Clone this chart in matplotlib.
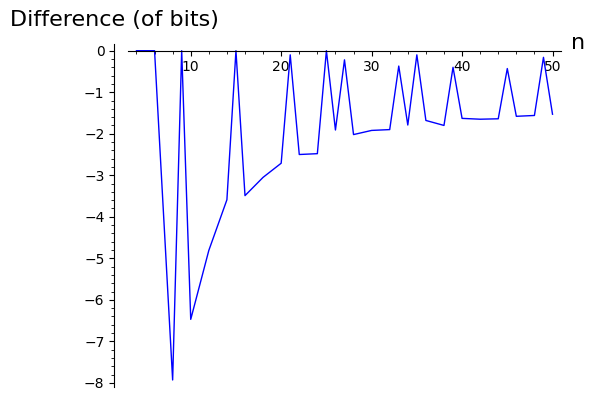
import matplotlib
matplotlib.use("Agg")
import matplotlib.pyplot as plt
from matplotlib.ticker import MultipleLocator

# composite n only (primes are missing from the data)
n = [4, 6, 8, 9, 10, 12, 14, 15, 16, 18, 20, 21, 22, 24, 25, 26, 27, 28,
     30, 32, 33, 34, 35, 36, 38, 39, 40, 42, 44, 45, 46, 48, 49, 50]
diff = [0.0, 0.0, -7.93, 0.0, -6.47, -4.81, -3.59, 0.0, -3.49, -3.05, -2.71,
        -0.10, -2.50, -2.48, 0.0, -1.91, -0.22, -2.02, -1.92, -1.90, -0.37,
        -1.79, -0.10, -1.68, -1.80, -0.40, -1.63, -1.65, -1.64, -0.43,
        -1.58, -1.56, -0.16, -1.53]

fig = plt.figure(figsize=(5.96, 4.01), dpi=100)
ax = fig.add_axes([0.215, 0.036, 0.726, 0.854])

ax.plot(n, diff, color="blue", lw=1.0)

xpad = 0.02 * (max(n) - min(n))
ypad = 0.02 * (max(diff) - min(diff))
ax.set_xlim(min(n) - xpad, max(n) + xpad)
ax.set_ylim(min(diff) - ypad, max(diff) + ypad)

ax.spines["top"].set_visible(False)
ax.spines["right"].set_visible(False)
ax.spines["bottom"].set_position(("data", 0))
ax.spines["left"].set_position(("outward", 10))

ax.xaxis.set_major_locator(MultipleLocator(10))
ax.xaxis.set_minor_locator(MultipleLocator(2))
ax.yaxis.set_major_locator(MultipleLocator(1))
ax.yaxis.set_minor_locator(MultipleLocator(0.2))
ax.tick_params(labelsize=10)

fig.text(0.017, 0.925, "Difference (of bits)", fontsize=16, ha="left", va="bottom")
fig.text(0.958, 0.893, "n", fontsize=16, ha="left", va="center")

fig.savefig("out.png", dpi=100)
